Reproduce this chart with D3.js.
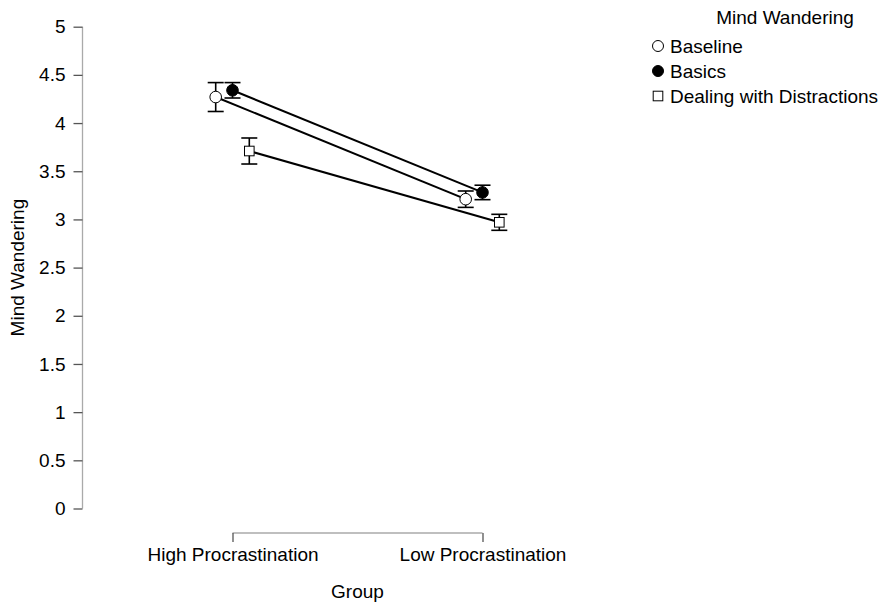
<!DOCTYPE html>
<html>
<head>
<meta charset="utf-8">
<script src="https://cdn.jsdelivr.net/npm/d3@7"></script>
<style>
  body { margin: 0; background: #fff; }
  text { font-family: "Liberation Sans", Arial, sans-serif; fill: #000; }
</style>
</head>
<body>
<svg id="chart" width="882" height="602"></svg>
<script>
const groups = ["High Procrastination", "Low Procrastination"]
const seriesNames = ["Baseline", "Basics", "Dealing with Distractions"]
const markers = ["circle-open", "circle-filled", "square-open"]
// means and half-width of error bars, per series, per group
const means = [
    [4.27, 3.21],
    [4.34, 3.28],
    [3.71, 2.97]
]
const errors = [
    [0.15, 0.085],
    [0.08, 0.075],
    [0.135, 0.083]
]
const yTicks = [0, 0.5, 1, 1.5, 2, 2.5, 3, 3.5, 4, 4.5, 5]

const svg = d3.select("#chart")
const fontSize = 19

const x = d3.scalePoint()
    .domain(groups)
    .range([232.5, 482.5])

const dodge = d3.scalePoint()
    .domain(seriesNames)
    .range([-16.8, 16.8])

const y = d3.scaleLinear()
    .domain([0, 5])
    .range([508.5, 26.7])

// y axis
const yAxis = svg.append("g")
    .attr("transform", "translate(82.5,0)")
    .call(d3.axisLeft(y).tickValues(yTicks).tickSize(9).tickPadding(8).tickFormat(d3.format("")))
yAxis.select(".domain").attr("stroke", "#aaa").attr("stroke-width", 1.3).attr("d", `M0,${y(0)}V${y(5)}`)
yAxis.selectAll(".tick line").attr("stroke", "#555").attr("stroke-width", 1.3)
yAxis.selectAll(".tick text").attr("font-size", fontSize).attr("fill", "#000")
    .attr("font-family", "Liberation Sans, Arial, sans-serif")

// x axis
const xAxis = svg.append("g")
    .attr("transform", "translate(0,533)")
    .call(d3.axisBottom(x).tickSize(9).tickPadding(6))
xAxis.select(".domain").attr("stroke", "#aaa").attr("stroke-width", 1.3).attr("d", `M${x(groups[0])},0H${x(groups[1])}`)
xAxis.selectAll(".tick line").attr("stroke", "#555").attr("stroke-width", 1.3)
xAxis.selectAll(".tick text").attr("font-size", fontSize).attr("fill", "#000")
    .attr("font-family", "Liberation Sans, Arial, sans-serif")

// axis titles
svg.append("text")
    .attr("x", x(groups[0]) / 2 + x(groups[1]) / 2)
    .attr("y", 598)
    .attr("text-anchor", "middle")
    .attr("font-size", fontSize)
    .text("Group")

svg.append("text")
    .attr("transform", `translate(24,${y(2.5)}) rotate(-90)`)
    .attr("text-anchor", "middle")
    .attr("font-size", fontSize)
    .text("Mind Wandering")

const data = seriesNames.map((s, i) => ({
    name: s,
    marker: markers[i],
    points: groups.map((g, j) => ({ group: g, mean: means[i][j], err: errors[i][j] }))
}))

const px = (s, p) => x(p.group) + dodge(s.name)

const line = d3.line()

const plot = svg.append("g")

// connecting lines
plot.selectAll(".series-line")
    .data(data)
    .join("path")
    .attr("fill", "none")
    .attr("stroke", "#000")
    .attr("stroke-width", 2)
    .attr("d", s => line(s.points.map(p => [px(s, p), y(p.mean)])))

// error bars
data.forEach(s => {
    const g = plot.append("g")
    s.points.forEach(p => {
        const cx = px(s, p)
        g.append("line")
            .attr("x1", cx).attr("x2", cx)
            .attr("y1", y(p.mean + p.err)).attr("y2", y(p.mean - p.err))
            .attr("stroke", "#000").attr("stroke-width", 1.6)
        ;[p.mean + p.err, p.mean - p.err].forEach(v => {
            g.append("line")
                .attr("x1", cx - 8).attr("x2", cx + 8)
                .attr("y1", y(v)).attr("y2", y(v))
                .attr("stroke", "#000").attr("stroke-width", 1.6)
        })
    })
})

function drawMarker(g, type, cx, cy, r) {
    if (type === "square-open") {
        g.append("rect")
            .attr("x", cx - r).attr("y", cy - r)
            .attr("width", 2 * r).attr("height", 2 * r)
            .attr("fill", "#fff").attr("stroke", "#000").attr("stroke-width", 1)
    } else {
        g.append("circle")
            .attr("cx", cx).attr("cy", cy).attr("r", r)
            .attr("fill", type === "circle-filled" ? "#000" : "#fff")
            .attr("stroke", "#000").attr("stroke-width", 1)
    }
}

// markers
data.forEach(s => {
    const g = plot.append("g")
    s.points.forEach(p => {
        drawMarker(g, s.marker, px(s, p), y(p.mean), s.marker === "square-open" ? 4.8 : 5.8)
    })
})

// legend
const legend = svg.append("g")
legend.append("text")
    .attr("x", 785).attr("y", 24)
    .attr("text-anchor", "middle")
    .attr("font-size", fontSize)
    .text("Mind Wandering")

data.forEach((s, i) => {
    const cy = 46 + 25 * i
    drawMarker(legend, s.marker, 658, cy, s.marker === "square-open" ? 4.8 : 5.5)
    legend.append("text")
        .attr("x", 670).attr("y", cy + 6.5)
        .attr("font-size", fontSize)
        .text(s.name)
})
</script>
</body>
</html>
